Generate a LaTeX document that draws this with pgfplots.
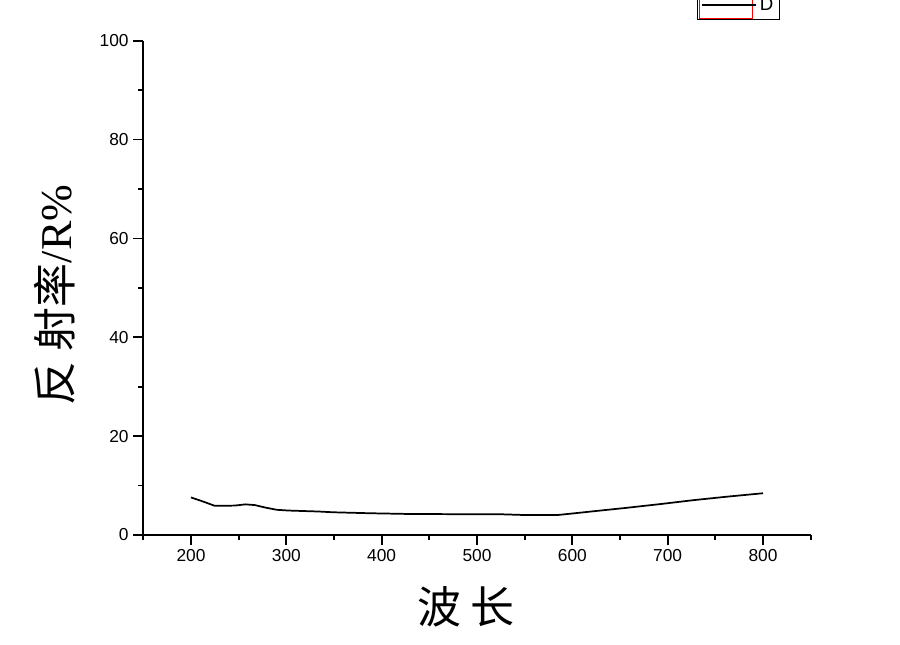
\documentclass[border=0pt]{standalone}
\usepackage{fontspec}
\setmainfont{Liberation Sans}
\newfontfamily\cjk{Noto Sans CJK SC}
\newfontfamily\tnr{Liberation Serif}
\usepackage{pgfplots}
\pgfplotsset{compat=1.18}

\begin{document}
\begin{tikzpicture}
\begin{axis}[
    scale only axis,
    width=500.5pt, height=370.7pt,
    xmin=150, xmax=850,
    ymin=0, ymax=100,
    clip=false,
    axis x line*=bottom,
    axis y line*=left,
    xtick={200,300,...,800},
    minor xtick={150,250,...,850},
    ytick={0,20,...,100},
    minor ytick={10,30,...,90},
    tick align=outside,
    major tick length=7.5pt,
    minor tick length=3.75pt,
    tick style={black, line width=1.3pt},
    axis line style={line width=1.3pt, -},
    ticklabel style={font=\fontsize{13}{15}\selectfont},
    /pgf/number format/assume math mode=true,
    xlabel={\cjk 波 长},
    ylabel={{\cjk 反 射率}{\tnr /R\%}},
    xlabel style={at={(axis description cs:0.4835,-0.1457)}, anchor=center,
        font=\fontsize{33}{36}\selectfont},
    ylabel style={at={(axis description cs:-0.1323,0.4855)}, anchor=center,
        rotate=0, font=\fontsize{33}{36}\selectfont},
    legend style={at={(0.954,1.0419)}, anchor=south east, fill=none,
        draw=black, line width=0.9pt, inner xsep=2.5pt, inner ysep=3pt,
        font=\fontsize{14}{16}\selectfont},
    legend image code/.code={\draw[#1] (-2pt,0pt) -- (39pt,0pt);},
]
\addplot[black, line width=1.3pt] coordinates {
    (200,7.6) (213,6.75) (225,5.9) (246,5.95) (257,6.2) (267,6.05)
    (278,5.55) (290,5.1) (302,4.95) (334,4.75) (349,4.6) (388,4.4)
    (430,4.25) (500,4.2) (524,4.2) (549,4.05) (585,4.05) (600,4.35)
    (622,4.8) (657,5.5) (692,6.25) (727,7.05) (762,7.75) (800,8.45)
};
\addlegendentry{D}
\draw[red, line width=0.8pt] (axis description cs:0.8335,1.0445) rectangle (axis description cs:0.9135,1.12);
\end{axis}
\pgfresetboundingbox
\useasboundingbox (-107.5pt,-81.75pt) rectangle (567.5pt,401.25pt);
\end{tikzpicture}
\end{document}
